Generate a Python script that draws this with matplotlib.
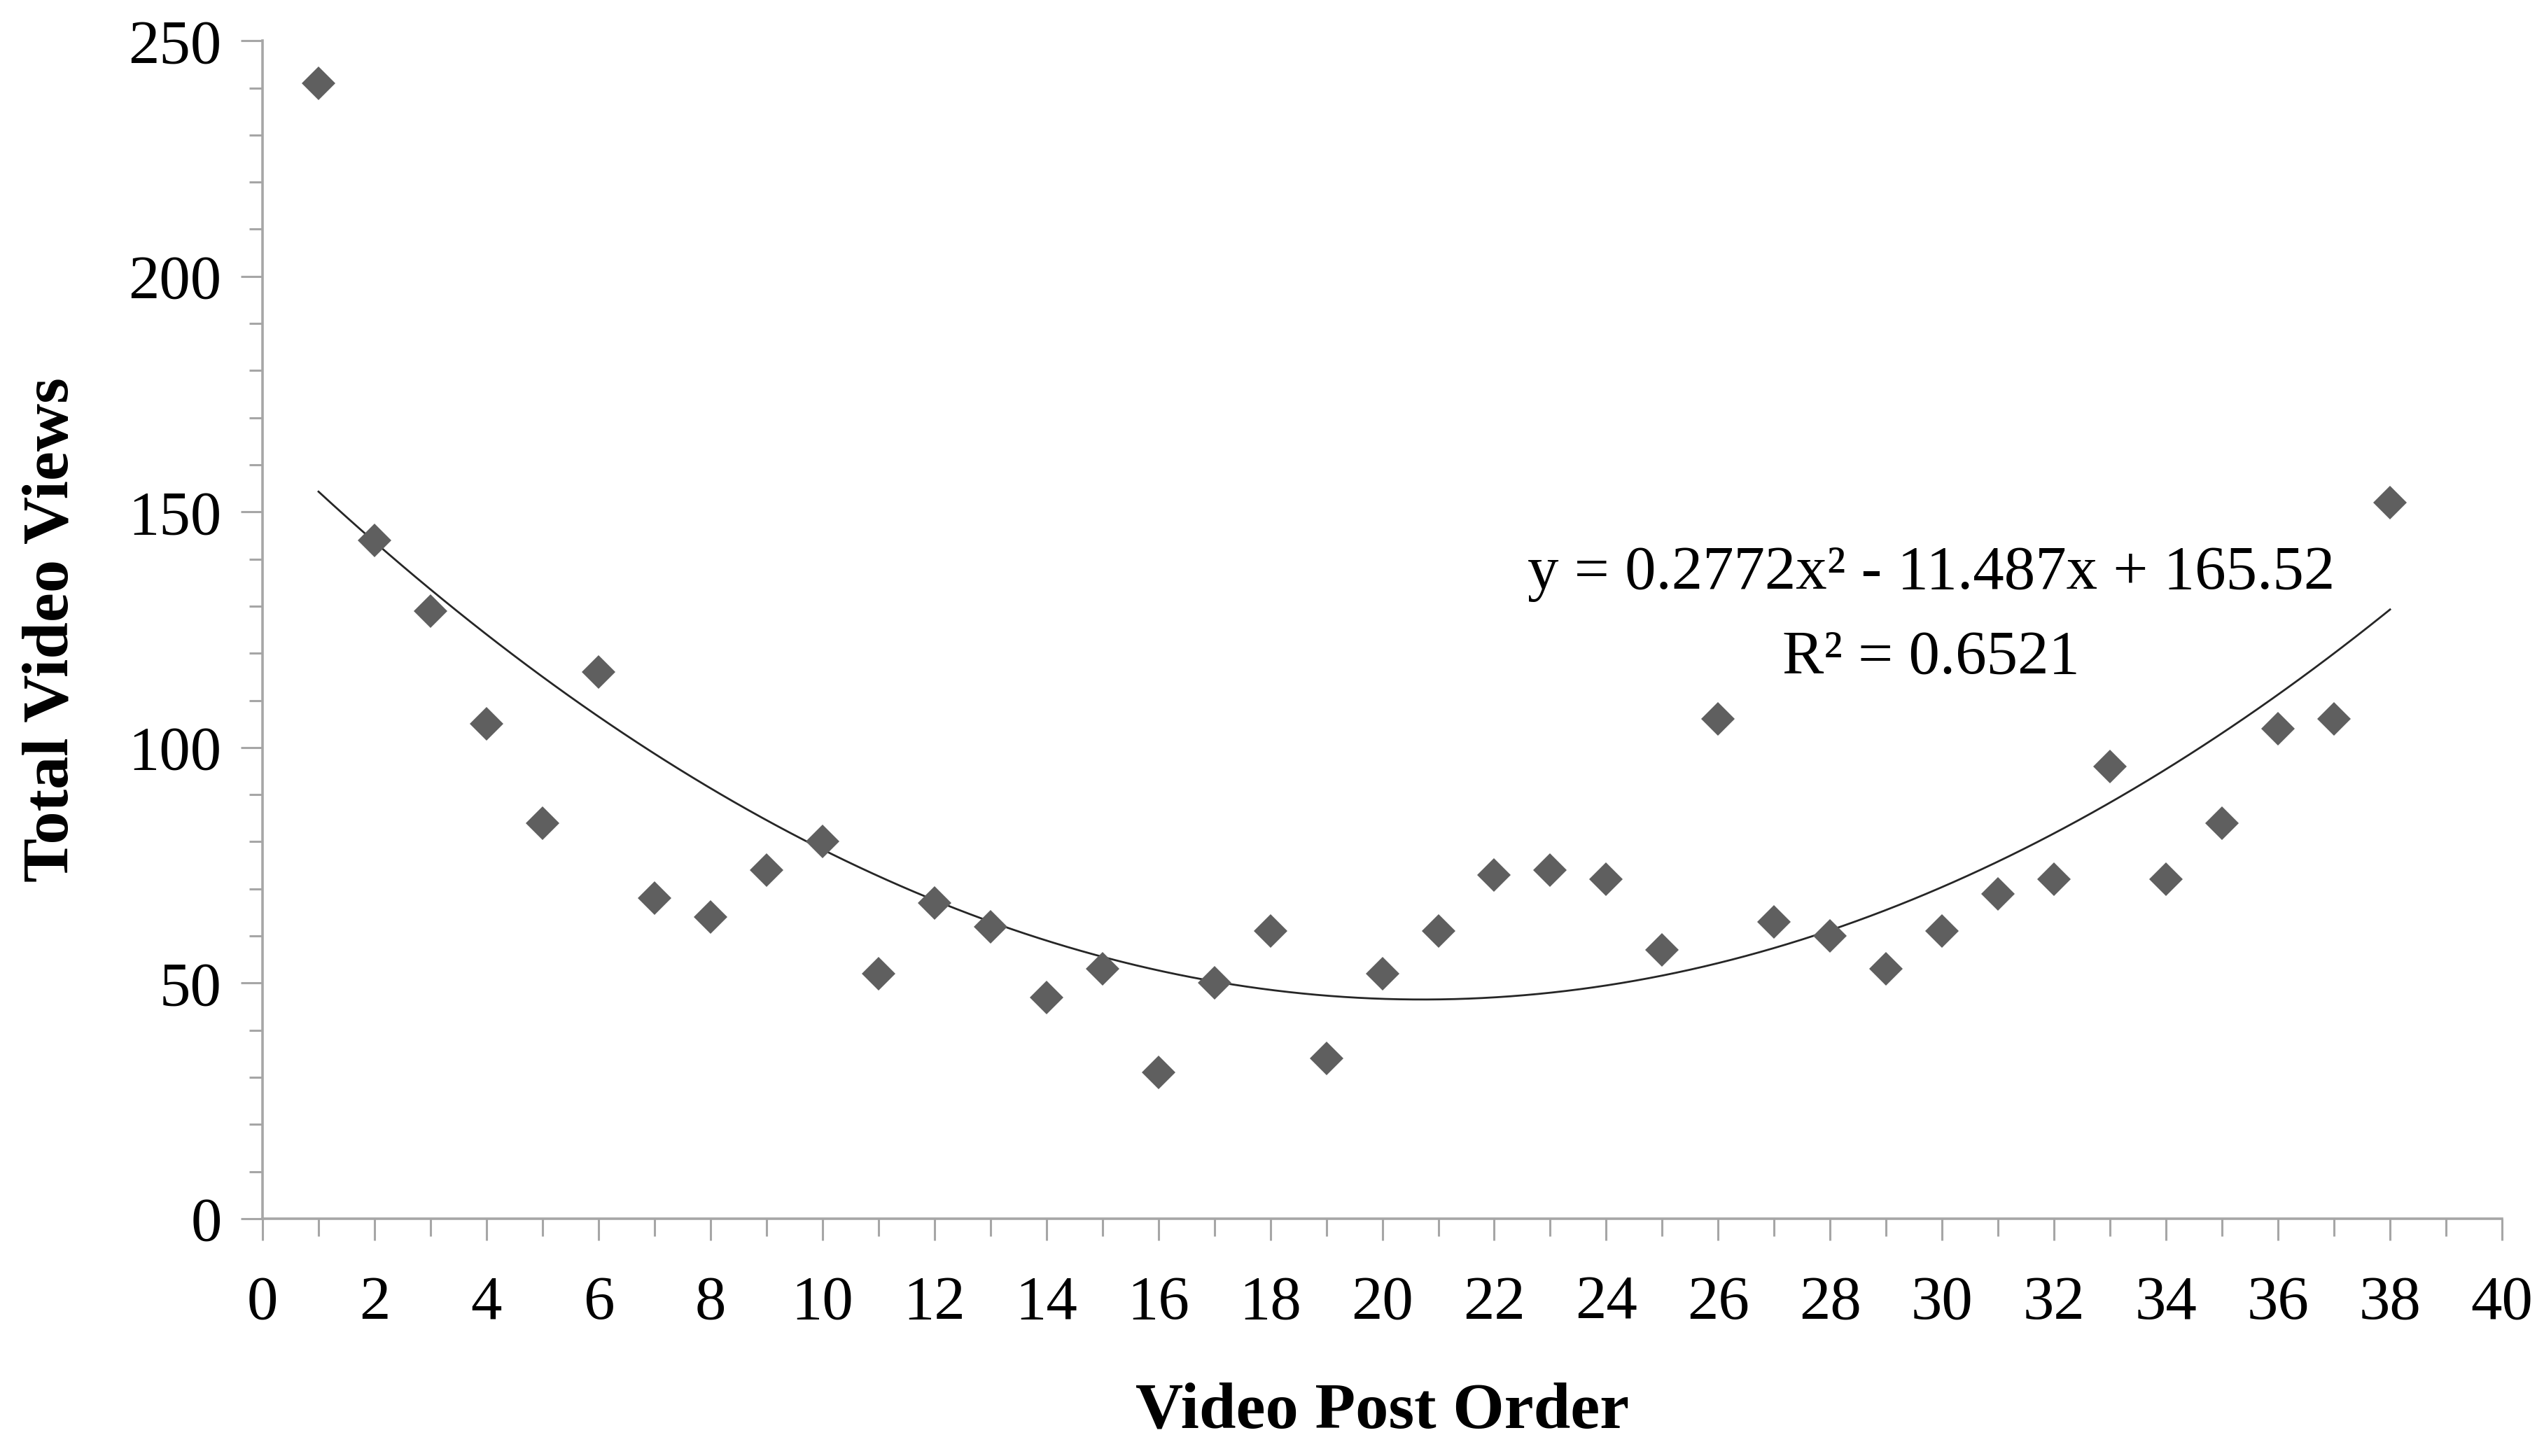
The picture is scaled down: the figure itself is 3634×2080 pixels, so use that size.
import matplotlib
matplotlib.use("Agg")
import matplotlib.pyplot as plt
import numpy as np
from matplotlib.ticker import MultipleLocator

plt.rcParams["font.family"] = ["Liberation Serif", "DejaVu Serif"]

# Data
post_order = list(range(1, 39))
total_views = [241, 144, 129, 105, 84, 116, 68, 64, 74, 80,
               52, 67, 62, 47, 53, 31, 50, 61, 34, 52,
               61, 73, 74, 72, 57, 106, 63, 60, 53, 61,
               69, 72, 96, 72, 84, 104, 106, 152]

# Polynomial trendline (order 2) as printed on the chart
trend_coef = [0.2772, -11.487, 165.52]
trend_label = "y = 0.2772x² - 11.487x + 165.52"
r2_label = "R² = 0.6521"

AXIS_GREY = "#a6a6a6"
MARKER_GREY = "#5f5f5f"

fig = plt.figure(figsize=(18.17, 10.4), dpi=200)
ax = fig.add_axes([0.1032, 0.163, 0.8803, 0.809])

ax.plot(post_order, total_views, linestyle="none", marker="D",
        markersize=12, color=MARKER_GREY, markeredgewidth=0, zorder=3)

xs = np.linspace(min(post_order), max(post_order), 300)
ax.plot(xs, np.polyval(trend_coef, xs), color="#262626", linewidth=1.0, zorder=2)

ax.text(29.8, 136.9, trend_label, ha="center", va="center", fontsize=32)
ax.text(29.8, 118.8, r2_label, ha="center", va="center", fontsize=32)

ax.set_xlim(0, 40)
ax.set_ylim(0, 250)
ax.xaxis.set_major_locator(MultipleLocator(2))
ax.xaxis.set_minor_locator(MultipleLocator(1))
ax.yaxis.set_major_locator(MultipleLocator(50))
ax.yaxis.set_minor_locator(MultipleLocator(10))

for side in ("top", "right"):
    ax.spines[side].set_visible(False)
for side in ("left", "bottom"):
    ax.spines[side].set_color(AXIS_GREY)
    ax.spines[side].set_linewidth(1.3)

ax.tick_params(axis="both", which="both", direction="out", color=AXIS_GREY,
               width=1.1, labelsize=32)
ax.tick_params(axis="y", which="major", length=11, pad=10)
ax.tick_params(axis="y", which="minor", length=7)
ax.tick_params(axis="x", which="major", length=11, pad=18)
ax.tick_params(axis="x", which="minor", length=9)

ax.set_xlabel("Video Post Order", fontsize=34, fontweight="bold", labelpad=26)
ax.set_ylabel("Total Video Views", fontsize=34, fontweight="bold", labelpad=24)

fig.savefig("out.png", dpi=200, facecolor="white")
